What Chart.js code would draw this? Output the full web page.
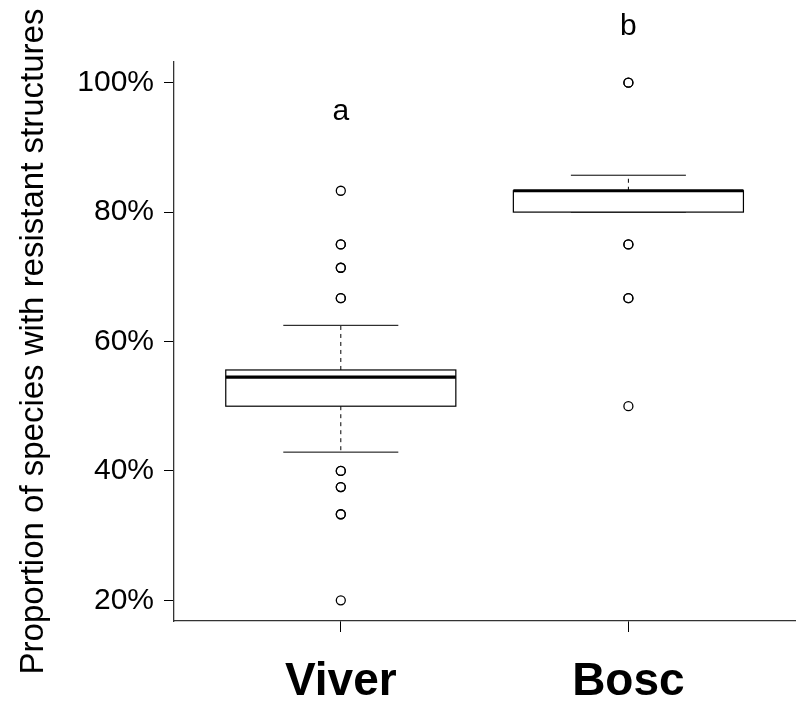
<!DOCTYPE html>
<html>
<head>
<meta charset="utf-8">
<script src="https://cdn.jsdelivr.net/npm/chart.js@4"></script>
<style>
  body { margin: 0; background: #fff; }
  canvas { display: block; }
</style>
</head>
<body>
<canvas id="boxChart" width="801" height="702"></canvas>
<script>
// groups on the x axis
const groups = ['Viver', 'Bosc'];

// box statistics (% of species)
const lowerWhisker = [42.9, 80];
const q1 = [50, 80];
const median = [54.5, 83.3];
const q3 = [55.6, 83.3];
const upperWhisker = [62.5, 85.7];

// outliers, repeated values are drawn on top of each other
const viverOutliers = [83.3, 75, 75, 71.4, 71.4, 66.7, 66.7, 40, 40, 37.5, 37.5, 33.3, 33.3, 20];
const boscOutliers = [100, 100, 75, 75, 66.7, 66.7, 50];

// significance letters and where they sit
const groupLetters = ['a', 'b'];
const letterY = [94.3, 107.3];

const yTicks = [20, 40, 60, 80, 100];

const boxPlugin = {
    id: 'boxPlugin',
    beforeDatasetsDraw(chart) {
        const ctx = chart.ctx;
        const x = chart.scales.x;
        const y = chart.scales.y;
        const boxHalf = 0.4;
        const capHalf = 0.2;

        ctx.save();
        groups.forEach((g, i) => {
            const pos = i + 1;
            const xc = x.getPixelForValue(pos);
            const xl = x.getPixelForValue(pos - boxHalf);
            const xr = x.getPixelForValue(pos + boxHalf);
            const cl = x.getPixelForValue(pos - capHalf);
            const cr = x.getPixelForValue(pos + capHalf);

            // dashed whiskers
            ctx.strokeStyle = '#000';
            ctx.lineWidth = 1;
            ctx.setLineDash([4, 4]);
            ctx.beginPath();
            ctx.moveTo(xc, y.getPixelForValue(q3[i]));
            ctx.lineTo(xc, y.getPixelForValue(upperWhisker[i]));
            ctx.moveTo(xc, y.getPixelForValue(q1[i]));
            ctx.lineTo(xc, y.getPixelForValue(lowerWhisker[i]));
            ctx.stroke();
            ctx.setLineDash([]);

            // whisker caps
            ctx.beginPath();
            ctx.moveTo(cl, y.getPixelForValue(upperWhisker[i]));
            ctx.lineTo(cr, y.getPixelForValue(upperWhisker[i]));
            ctx.moveTo(cl, y.getPixelForValue(lowerWhisker[i]));
            ctx.lineTo(cr, y.getPixelForValue(lowerWhisker[i]));
            ctx.stroke();

            // box
            const yTop = y.getPixelForValue(q3[i]);
            const yBot = y.getPixelForValue(q1[i]);
            ctx.fillStyle = '#fff';
            ctx.fillRect(xl, yTop, xr - xl, yBot - yTop);
            ctx.lineWidth = 1.2;
            ctx.strokeRect(xl, yTop, xr - xl, yBot - yTop);

            // median
            ctx.lineWidth = 3.2;
            ctx.beginPath();
            ctx.moveTo(xl, y.getPixelForValue(median[i]));
            ctx.lineTo(xr, y.getPixelForValue(median[i]));
            ctx.stroke();
        });
        ctx.restore();
    },
    afterDraw(chart) {
        const ctx = chart.ctx;
        const x = chart.scales.x;
        const y = chart.scales.y;
        ctx.save();
        ctx.fillStyle = '#000';
        ctx.font = '30px "Liberation Sans", Arial, sans-serif';
        ctx.textAlign = 'center';
        ctx.textBaseline = 'alphabetic';
        groupLetters.forEach((l, i) => {
            ctx.fillText(l, x.getPixelForValue(i + 1), y.getPixelForValue(letterY[i]));
        });
        ctx.restore();
    }
};

const ctx = document.getElementById('boxChart').getContext('2d');
const boxChart = new Chart(ctx, {
    type: 'scatter',
    data: {
        datasets: [{
            label: 'Viver',
            data: viverOutliers.map(v => ({ x: 1, y: v }))
        }, {
            label: 'Bosc',
            data: boscOutliers.map(v => ({ x: 2, y: v }))
        }]
    },
    options: {
        responsive: false,
        animation: false,
        layout: {
            padding: { top: 62, right: 5, left: 0, bottom: 0 }
        },
        elements: {
            point: {
                radius: 4.5,
                borderWidth: 1.3,
                borderColor: '#000',
                backgroundColor: 'rgba(0,0,0,0)',
                pointStyle: 'circle'
            }
        },
        plugins: {
            legend: { display: false },
            tooltip: { enabled: false }
        },
        scales: {
            x: {
                type: 'linear',
                min: 0.42,
                max: 2.58,
                afterBuildTicks: scale => {
                    scale.ticks = groups.map((g, i) => ({ value: i + 1 }));
                },
                afterFit: scale => { scale.height = 81; },
                grid: {
                    drawOnChartArea: false,
                    drawTicks: true,
                    tickLength: 11,
                    tickColor: '#000',
                    tickWidth: 1
                },
                border: { display: true, color: '#333', width: 1.3 },
                ticks: {
                    autoSkip: false,
                    maxRotation: 0,
                    padding: 23,
                    color: '#000',
                    font: { family: '"Liberation Sans", Arial', size: 46, weight: 'bold' },
                    callback: v => groups[v - 1]
                }
            },
            y: {
                type: 'linear',
                min: 16.8,
                max: 103.2,
                afterBuildTicks: scale => {
                    scale.ticks = yTicks.map(v => ({ value: v }));
                },
                afterFit: scale => { scale.width = 174; },
                grid: {
                    drawOnChartArea: false,
                    drawTicks: true,
                    tickLength: 10,
                    tickColor: '#000',
                    tickWidth: 1
                },
                border: { display: true, color: '#333', width: 1.3 },
                ticks: {
                    padding: 10,
                    color: '#000',
                    font: { family: '"Liberation Sans", Arial', size: 30 },
                    callback: v => v + '%'
                },
                title: {
                    display: true,
                    text: 'Proportion of species with resistant structures',
                    color: '#000',
                    font: { family: '"Liberation Sans", Arial', size: 33 },
                    padding: { top: 14, bottom: 0 }
                }
            }
        }
    },
    plugins: [boxPlugin]
});
</script>
</body>
</html>
